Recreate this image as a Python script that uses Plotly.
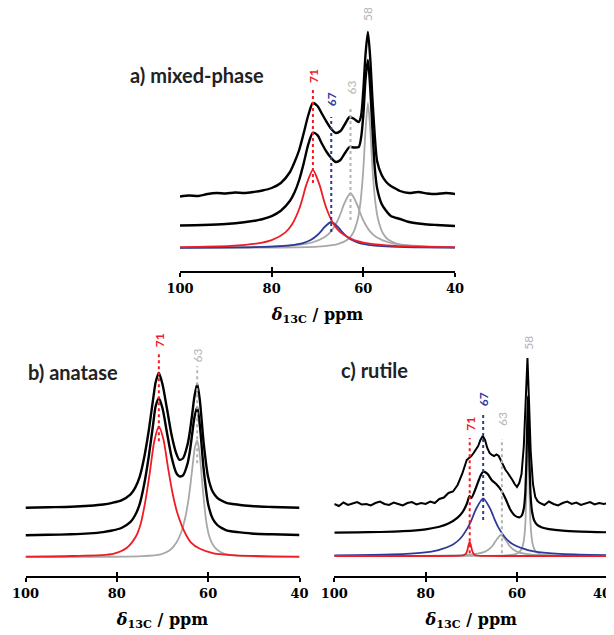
import plotly.graph_objects as go

# ---------------- DATA ----------------
TICKS = [100, 80, 60, 40]
TICK_TEXT = ["100", "80", "60", "40"]

# ---- panel a) mixed-phase  (y: height above component baseline, arbitrary units)
a_red_x = [100, 89, 83, 80, 77, 75.5, 74, 73.25, 72.5, 71, 69.5, 68.75, 68, 66.5, 65, 62, 59, 53, 41, 40]
a_red_y = [0.83, 2.1, 4.6, 7.8, 15.6, 24, 39, 49.9, 62.4, 78, 62.4, 49.9, 39, 24, 15.6, 7.8, 4.6, 2.1, 0.77, 0.72]
a_blue_x = [100, 85, 79, 76, 73, 71.5, 70, 69.25, 68.5, 67, 65.5, 64.75, 64, 62.5, 61, 58, 55, 49, 40]
a_blue_y = [0.21, 0.7, 1.53, 2.6, 5.2, 8.0, 13, 16.6, 20.8, 26, 20.8, 16.6, 13, 8.0, 5.2, 2.6, 1.53, 0.7, 0.32]
a_g63_x = [100, 90.8, 79.6, 74, 71.2, 68.4, 67, 65.6, 64.9, 64.2, 62.8, 61.4, 60.7, 60, 58.6, 57.2, 54.4, 51.6, 46, 40]
a_g63_y = [0.31, 0.54, 1.49, 3.24, 5.5, 11, 16.9, 27.5, 35.2, 44, 55, 44, 35.2, 27.5, 16.9, 11, 5.5, 3.24, 1.49, 0.82]
a_g58_x = [100, 81, 70, 65.6, 63.4, 62.3, 61.2, 60.65, 60.1, 59.825, 59.55, 59, 58.45, 58.175, 57.9, 57.35, 56.8, 55.7, 54.6, 52.4, 48, 40]
a_g58_y = [0.10, 0.36, 1.44, 3.92, 8.5, 14.5, 29, 44.6, 72.5, 92.8, 116, 145, 116, 92.8, 72.5, 44.6, 29, 14.5, 8.5, 3.92, 1.44, 0.48]
a_fit_x = [100, 95, 90, 86, 83, 80, 78, 76, 75, 74, 73, 72, 71, 70, 69, 68, 67, 66, 65, 64, 63, 62, 61, 60.5, 60, 59.5, 59, 58.5, 58, 57.5, 57, 56, 55, 54, 52, 50, 47, 44, 40]
a_fit_y = [22.5, 23, 24, 25.7, 27.8, 31.9, 37.2, 47.2, 55.7, 68, 84.9, 103.8, 115.3, 112.8, 104, 96, 90, 86, 88, 95, 101, 100.5, 101, 110, 133, 170, 188, 160, 118, 80, 60, 44, 37, 32, 29, 26, 24, 23, 22]
a_exp_x = [100, 98, 96, 94, 92, 90, 88, 86, 84, 82, 80, 78, 76, 75, 74, 73, 72, 71, 70, 69, 68, 67, 66, 65, 64, 63, 62, 61, 60.5, 60, 59.5, 59, 58.5, 58, 57.5, 57, 56, 55, 54, 53, 52, 50, 48, 46, 44, 42, 40]
a_exp_y = [51.5, 52.5, 52, 54, 55, 54.5, 55.5, 55, 56, 57.5, 60, 65, 76, 86, 98, 115, 133, 145, 142, 134, 126, 119, 115, 117, 124, 131, 129, 126, 132, 158, 195, 216, 190, 148, 112, 87, 73, 66, 62, 59.5, 57, 55, 56, 54.5, 54, 55, 54]

# ---- panel b) anatase
b_red_x = [100, 90, 80.8, 77.8, 75.8, 74.8, 73.8, 72.8, 71.8, 70.8, 69.8, 68.8, 67.8, 66.8, 65.8, 64.8, 63.8, 61.8, 58.8, 54.8, 50.8, 40.8, 40]
b_red_y = [0.6, 1.3, 3.5, 9.5, 21, 33, 55, 84, 116, 131, 118, 90, 64, 45, 32, 22, 15, 8.5, 4, 2.2, 1.4, 0.6, 0.6]
b_gray_x = [100, 82.4, 74.4, 70.4, 68.4, 66.9, 65.9, 65.1, 64.4, 63.9, 63.4, 62.9, 62.4, 61.9, 61.4, 60.9, 60.4, 59.7, 58.9, 57.9, 56.4, 54.4, 50.4, 42.4, 40]
b_gray_y = [0.1, 0.5, 1.2, 3, 7, 15, 25, 38, 55, 72, 92, 110, 117, 105, 80, 55, 35, 20, 12, 7, 3.5, 2, 1, 0.4, 0.35]
b_fit_x = [100, 95, 90, 86, 83, 81, 79, 77, 76, 75, 74, 73, 72, 71.5, 70.8, 70, 69, 68, 67, 66.3, 65.5, 64.5, 64, 63.5, 63, 62.4, 61.8, 61, 60, 59, 58, 57, 56, 55, 53, 50, 46, 40]
b_fit_y = [22, 22.5, 23, 23.9, 25.2, 26.8, 29.3, 35.4, 42, 53.1, 73.2, 101, 135, 151, 159, 149, 124, 100, 84.5, 81, 82, 94, 106.3, 123.3, 140, 150, 131, 88.7, 53.1, 38.5, 32.3, 29.2, 27, 26, 24.9, 23.6, 23, 22.3]
b_exp_x = b_fit_x
b_exp_y = [49.5, 50, 50.5, 51.5, 52.8, 54.5, 57, 63, 69.5, 80.5, 100, 127, 160, 175, 184.6, 173, 148, 122, 104, 97.5, 99, 113, 126, 143, 161, 173.3, 156, 115, 80, 65.5, 59.5, 56.5, 54.5, 53.5, 52.3, 51, 50.3, 49.5]

# ---- panel c) rutile
c_red_x = [100, 80, 73.4, 71.9, 71.4, 71.1, 70.85, 70.6, 70.35, 70.1, 69.85, 69.6, 69.35, 68.85, 67.4, 60, 40]
c_red_y = [0, 0, 0.1, 0.5, 1.5, 3, 6, 11, 14.3, 11, 6, 3, 1.5, 0.5, 0.1, 0, 0]
c_blue_x = [100, 87.4, 80.6, 77.4, 74, 72.4, 70.7, 69.9, 69.05, 67.4, 65.75, 64.9, 64.1, 62.4, 60.8, 57.4, 54.2, 47.4, 40]
c_blue_y = [0.59, 1.53, 3.4, 5.7, 11.5, 17.5, 28.9, 36.6, 46.2, 57.7, 46.2, 36.6, 28.9, 17.5, 11.5, 5.7, 3.4, 1.53, 0.82]
c_g63_x = [100, 81.5, 72.5, 68.9, 67.1, 66.2, 65.3, 64.4, 63.5, 62.6, 61.7, 60.8, 59.9, 58.1, 54.5, 45.5, 40]
c_g63_y = [0.05, 0.2, 0.8, 2.1, 4.2, 6.5, 10.5, 16.8, 21, 16.8, 10.5, 6.5, 4.2, 2.1, 0.8, 0.2, 0.1]
c_g58_x = [100, 67.6, 62.6, 60.1, 59.1, 58.6, 58.25, 58.1, 57.93, 57.85, 57.75, 57.6, 57.45, 57.35, 57.27, 57.1, 56.94, 56.6, 56.1, 55.1, 52.6, 47.6, 40]
c_g58_y = [0.01, 0.14, 0.56, 2.2, 6, 12.8, 26, 39.6, 65, 82.6, 104, 130, 104, 82.6, 65, 39.6, 26, 12.8, 6, 2.2, 0.56, 0.14, 0.05]
c_fit_x = [100, 95, 90, 85, 80, 77, 75, 73, 72, 71, 70.4, 70, 69, 68, 67.4, 66.5, 65.5, 64.5, 63.5, 62.5, 61.5, 60.5, 59.5, 59, 58.5, 58.2, 57.9, 57.6, 57.3, 57, 56.7, 56.2, 55.5, 54.5, 53, 50, 46, 40]
c_fit_y = [23.3, 23.6, 24, 24.8, 26.7, 29.2, 32.4, 38.4, 43.3, 52, 60, 58, 68, 80, 84.3, 82.3, 75.7, 71.7, 66, 57.3, 46.7, 40.5, 38.6, 40.1, 47.5, 61.7, 102, 160, 101, 59.7, 44.5, 35.3, 30.9, 28.5, 26.9, 25.3, 24.4, 23.7]
c_exp_x = [100, 99, 98, 97, 96, 95, 94, 93, 92, 91, 90, 89, 88, 87, 86, 85, 84, 83, 82, 81, 80, 79, 78, 77, 76, 75, 74, 73, 72, 71.5, 71, 70.5, 70, 69.5, 69, 68.5, 68, 67.5, 67, 66.5, 66, 65.5, 65, 64.5, 64, 63.5, 63, 62.5, 62, 61.5, 61, 60.5, 60, 59.5, 59, 58.5, 58, 57.7, 57.4, 57, 56.5, 56, 55.5, 55, 54, 53, 52, 51, 50, 49, 48, 47, 46, 45, 44, 43, 42, 41, 40]
c_exp_y = [52, 50, 53.5, 51, 52.5, 54, 51.5, 52, 50.5, 53, 54.5, 52, 51, 53.5, 52, 50.5, 53, 54, 51.5, 53, 52, 54.5, 53, 57, 58.5, 63, 64.5, 71, 82, 90, 96, 98, 100, 103, 106, 110, 116, 120, 116, 108, 103, 101, 100, 101.5, 100, 95, 90, 86, 83, 80, 76, 72, 69, 73, 82, 110, 165, 198, 160, 105, 72, 59, 55, 53, 51, 54.5, 52, 50.5, 53, 54.5, 52, 53.5, 51, 52.5, 54, 51.5, 53, 52, 53]

# peak markers: position, label
a_marks = [(71, "71"), (67, "67"), (62.8, "63"), (59, "58")]
b_marks = [(70.8, "71"), (62.4, "63")]
c_marks = [(70.35, "71"), (67.4, "67"), (63.3, "63"), (57.65, "58")]

# ---------------- STYLE ----------------
PAGE_W, PAGE_H = 614, 635
OFF = 8                      # default page margin of the html body
W, H = PAGE_W - OFF, PAGE_H - OFF
RED = "#ee1c24"
BLUE = "#2e3a9a"
GRAY = "#a8a8a8"
LGRAY = "#b4b4b4"
BLACK = "#000000"
SANS = "Lato"
SERIF = "DejaVu Serif"
TICKFONT = dict(family=SERIF, size=13, color=BLACK, weight="bold")


def px_dom_x(x0, x1):
    return [(x0 - OFF) / W, (x1 - OFF) / W]


def px_dom_y(top, bottom):
    return [(H - (bottom - OFF)) / H, (H - (top - OFF)) / H]


panels = {
    # name: (x left px, x right px, top px, axis px, baseline px)   (page pixels)
    "a": (180, 455, 8, 271, 248),
    "b": (25.5, 299.5, 310, 576, 557.3),
    "c": (334.3, 608.3, 310, 576, 556),
}
axis_ids = {"a": ("x", "y"), "b": ("x2", "y2"), "c": ("x3", "y3")}

fig = go.Figure()


def line(ax, x, y, color, width, dash=None, shape="spline"):
    xa, ya = axis_ids[ax]
    fig.add_trace(go.Scatter(
        x=x, y=y, mode="lines", xaxis=xa, yaxis=ya, hoverinfo="skip",
        line=dict(color=color, width=width, dash=dash, shape=shape, smoothing=0.7),
        showlegend=False))


# panel a
line("a", a_g58_x, a_g58_y, GRAY, 1.8)
line("a", a_g63_x, a_g63_y, GRAY, 1.8)
line("a", a_blue_x, a_blue_y, BLUE, 1.8)
line("a", a_red_x, a_red_y, RED, 1.8)
line("a", a_fit_x, a_fit_y, BLACK, 2.4)
line("a", a_exp_x, a_exp_y, BLACK, 2.4)
# panel b
line("b", b_gray_x, b_gray_y, GRAY, 1.8)
line("b", b_red_x, b_red_y, RED, 1.8)
line("b", b_fit_x, b_fit_y, BLACK, 2.4)
line("b", b_exp_x, b_exp_y, BLACK, 2.4)
# panel c
line("c", c_g58_x, c_g58_y, GRAY, 1.8)
line("c", c_g63_x, c_g63_y, GRAY, 1.8)
line("c", c_blue_x, c_blue_y, BLUE, 1.8)
line("c", c_red_x, c_red_y, RED, 1.8)
line("c", c_fit_x, c_fit_y, BLACK, 2.2)
line("c", c_exp_x, c_exp_y, BLACK, 2.0, shape="linear")

# dotted guide lines (y extents) and label bottoms
guides = {
    "a": [(RED, 65, 161, 163, True), (BLUE, 16, 131, 140, True), (LGRAY, 28, 141, 151, False), (LGRAY, None, None, 225, False)],
    "b": [(RED, 116, 206, 208, True), (LGRAY, 94, 191, 193, False)],
    "c": [(RED, 2.7, 118, 123, True), (BLUE, 36, 143, 148, True), (LGRAY, 2.7, 117, 128, False), (LGRAY, None, None, 204, False)],
}
marks = {"a": a_marks, "b": b_marks, "c": c_marks}
annotations = []
for p in ["a", "b", "c"]:
    xa, ya = axis_ids[p]
    for (pos, lab), (col, y0, y1, ylab, bold) in zip(marks[p], guides[p]):
        if y0 is not None:
            line(p, [pos, pos], [y0, y1], col, 2, dash="dot", shape="linear")
        annotations.append(dict(
            x=pos, y=ylab, xref=xa, yref=ya, text=("<b>%s</b>" % lab) if bold else lab,
            textangle=-90, showarrow=False, xanchor="center", yanchor="bottom",
            font=dict(family=SANS, size=12, color=col)))

# panel titles
for txt, x, y in [("a) mixed-phase", 128, 75), ("b) anatase", 26, 372), ("c) rutile", 339, 370)]:
    annotations.append(dict(x=(x - OFF) / W, y=1 - (y - OFF) / H, xref="paper", yref="paper",
                            text="<b>%s</b>" % txt, showarrow=False, xanchor="left", yanchor="middle",
                            font=dict(family=SANS, size=20, color="#222222")))

# right-most tick label of panel c, nudged left so it stays inside the page
annotations.append(dict(x=1, y=1 - (593 - OFF) / H, xref="paper", yref="paper",
                        text=TICK_TEXT[-1], showarrow=False, xanchor="right", yanchor="middle",
                        xshift=-1, font=TICKFONT))

layout = dict(width=W, height=H, margin=dict(l=0, r=0, t=0, b=0, autoexpand=False),
              paper_bgcolor="white", plot_bgcolor="white", annotations=annotations)

for p, (xl, xr, top, axpx, base) in panels.items():
    xa, ya = axis_ids[p]
    xkey = "xaxis" + xa[1:]
    ykey = "yaxis" + ya[1:]
    ttext = list(TICK_TEXT)
    if p == "c":
        ttext[-1] = " "
    layout[xkey] = dict(
        domain=px_dom_x(xl, xr), range=[100, 40], anchor=ya, tickvals=TICKS, ticktext=ttext,
        automargin=False,
        ticks="outside", ticklen=4, tickwidth=2, tickcolor=BLACK, ticklabeloverflow="allow",
        showline=True, linewidth=2, linecolor=BLACK, showgrid=False, zeroline=False,
        tickfont=TICKFONT,
        title=dict(text="<i>δ</i><sub>13C</sub> / ppm", standoff=14,
                   font=dict(family=SERIF, size=16, color=BLACK, weight="bold")))
    layout[ykey] = dict(domain=px_dom_y(top, axpx), range=[base - axpx, base - top],
                        visible=False, fixedrange=True, automargin=False)

# overlay axes for the upward half of the crossing ticks
for i, p in zip([4, 5, 6], ["a", "b", "c"]):
    xa, ya = axis_ids[p]
    layout["xaxis%d" % i] = dict(overlaying=xa, anchor=ya, range=[100, 40], tickvals=TICKS,
                                 ticks="inside", ticklen=4, tickwidth=2, tickcolor=BLACK,
                                 showticklabels=False, showline=False, showgrid=False,
                                 zeroline=False, side="bottom", automargin=False)
    fig.add_trace(go.Scatter(x=[None], y=[None], xaxis="x%d" % i, yaxis=ya,
                             showlegend=False, hoverinfo="skip"))

fig.update_layout(**layout)
fig.write_html("out.html")
